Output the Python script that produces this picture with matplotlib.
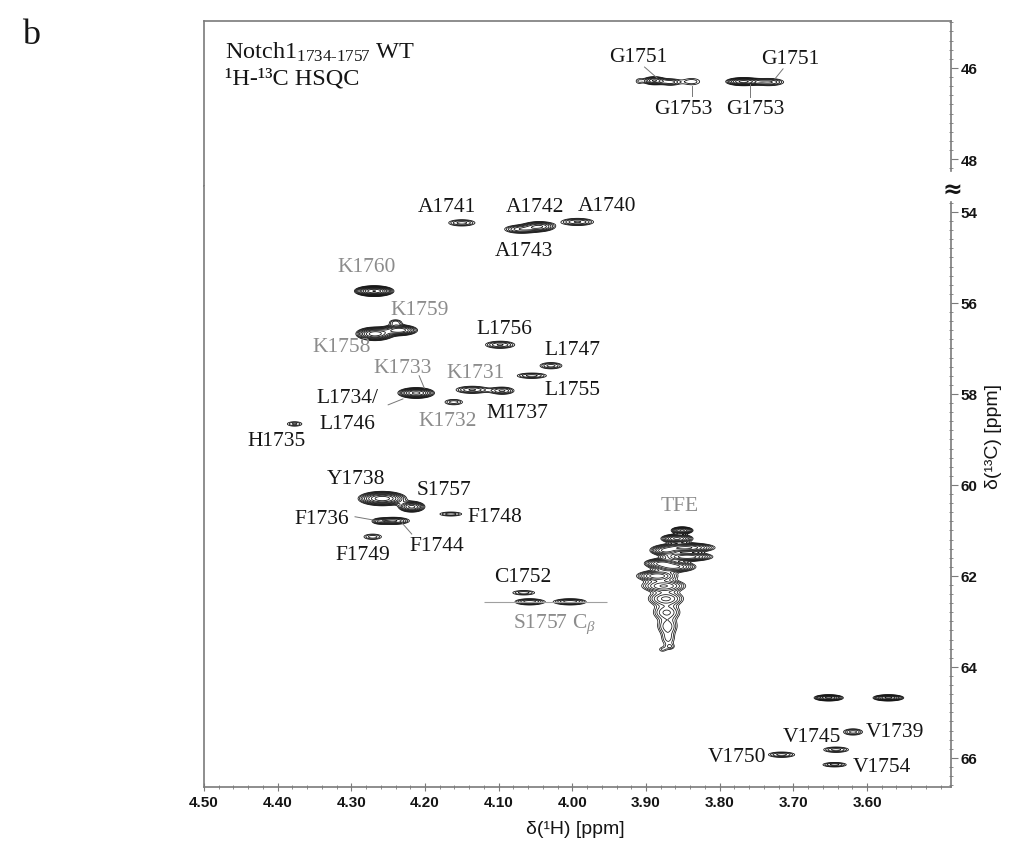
import numpy as np
import matplotlib

matplotlib.use("Agg")
import matplotlib.pyplot as plt
from matplotlib import font_manager

# glycine region (upper strip, 45-48.3 ppm)
gly_h = [3.910, 3.889, 3.867, 3.838, 3.768, 3.733]
gly_c = [46.29, 46.28, 46.31, 46.30, 46.30, 46.31]
gly_hw = [0.003, 0.015, 0.012, 0.011, 0.024, 0.020]
gly_hh = [0.04, 0.09, 0.07, 0.07, 0.09, 0.08]
gly_amp = [1.2, 5.0, 2.5, 1.6, 7.0, 3.0]

# alpha-proton region (lower strip)
main_h = [4.150, 4.070, 4.045, 3.993,
          4.269, 4.268, 4.235, 4.240,
          4.098, 4.029, 4.055,
          4.212, 4.136, 4.095, 4.161, 4.377,
          4.258, 4.218, 4.243, 4.262, 4.271, 4.165,
          4.066, 4.058, 4.003,
          3.652, 3.571, 3.619, 3.642, 3.716, 3.644]
main_c = [54.24, 54.38, 54.32, 54.22,
          55.74, 56.68, 56.60, 56.43,
          56.92, 57.38, 57.60,
          57.98, 57.91, 57.93, 58.18, 58.66,
          60.30, 60.48, 60.79, 60.80, 61.14, 60.64,
          62.37, 62.57, 62.57,
          64.68, 64.68, 65.43, 65.82, 65.93, 66.15]
main_hw = [0.018, 0.022, 0.022, 0.022,
           0.027, 0.026, 0.025, 0.008,
           0.020, 0.015, 0.020,
           0.025, 0.022, 0.016, 0.012, 0.010,
           0.033, 0.018, 0.022, 0.008, 0.012, 0.015,
           0.015, 0.020, 0.022,
           0.020, 0.021, 0.013, 0.017, 0.018, 0.016]
main_hh = [0.07, 0.09, 0.11, 0.08,
           0.12, 0.15, 0.12, 0.06,
           0.08, 0.07, 0.06,
           0.12, 0.08, 0.08, 0.06, 0.05,
           0.16, 0.12, 0.08, 0.05, 0.06, 0.045,
           0.05, 0.07, 0.07,
           0.07, 0.07, 0.07, 0.06, 0.06, 0.05]
main_amp = [2.5, 3.5, 5.0, 3.0,
            14.0, 10.0, 8.0, 2.0,
            3.0, 2.5, 2.5,
            9.0, 3.0, 3.0, 2.0, 1.8,
            10.0, 7.0, 4.0, 2.0, 2.0, 2.0,
            2.0, 3.5, 3.5,
            7.0, 7.0, 2.5, 2.5, 2.5, 2.5]

# TFE solvent signal, traced as overlapping rows
tfe_h = [3.851, 3.858, 3.846, 3.874, 3.844, 3.880, 3.862, 3.885, 3.876, 3.873, 3.872, 3.871, 3.870, 3.878, 3.867]
tfe_c = [61.00, 61.18, 61.38, 61.45, 61.58, 61.72, 61.80, 62.00, 62.22, 62.50, 62.80, 63.10, 63.38, 63.62, 63.56]
tfe_hw = [0.015, 0.022, 0.040, 0.020, 0.035, 0.022, 0.030, 0.028, 0.030, 0.024, 0.018, 0.013, 0.008, 0.003, 0.003]
tfe_hh = [0.08, 0.10, 0.11, 0.10, 0.10, 0.10, 0.12, 0.12, 0.14, 0.16, 0.16, 0.16, 0.14, 0.03, 0.03]
tfe_amp = [9.0, 9.0, 9.0, 6.0, 8.0, 6.0, 7.0, 6.0, 5.0, 4.0, 3.0, 2.5, 1.8, 1.2, 1.2]

x_ticks = [4.50, 4.40, 4.30, 4.20, 4.10, 4.00, 3.90, 3.80, 3.70, 3.60]
top_ticks = [46, 48]
bot_ticks = [54, 56, 58, 60, 62, 64, 66]

X_LIM = (4.50, 3.486)
TOP_LIM = (48.59, 44.97)
BOT_LIM = (66.64, 53.43)
BASE = 1.0
LEVELS = BASE * 1.3 ** np.arange(0, 13)

BLACK = "#151515"
GRAY = "#8c8c8c"
SPINE = "#7a7a7a"


def pick_font(names, fallback):
    available = {f.name for f in font_manager.fontManager.ttflist}
    for n in names:
        if n in available:
            return n
    return fallback


SERIF = pick_font(["Liberation Serif"], "DejaVu Serif")
NARROW = pick_font(["Liberation Sans Narrow", "Liberation Sans"], "DejaVu Sans")
SANS = pick_font(["Liberation Sans", "Arial"], "DejaVu Sans")

plt.rcParams["font.family"] = [SERIF, "DejaVu Serif"]
plt.rcParams["mathtext.fontset"] = "custom"
plt.rcParams["mathtext.rm"] = SERIF
plt.rcParams["mathtext.it"] = SERIF + ":italic"
plt.rcParams["mathtext.bf"] = SERIF + ":bold"


def spectrum(xg, yg, hs, cs, hws, hhs, amps):
    z = np.zeros((len(yg), len(xg)))
    for h, c, hw, hh, a in zip(hs, cs, hws, hhs, amps):
        k = np.sqrt(2 * np.log(a / (BASE * 0.98)))
        sx, sy = hw / k, hh / k
        gx = np.exp(-0.5 * ((xg - h) / sx) ** 2)
        gy = np.exp(-0.5 * ((yg - c) / sy) ** 2)
        z += a * np.outer(gy, gx)
    return z


fig = plt.figure(figsize=(10.14, 8.45), dpi=100)
fig.patch.set_facecolor("white")
left, width = 204 / 1014, 747 / 1014
ax_top = fig.add_axes([left, 1 - 187 / 845, width, 165 / 845])
ax_bot = fig.add_axes([left, 1 - 788 / 845, width, 601 / 845])

xg = np.linspace(X_LIM[1], X_LIM[0], 1500)
yg_top = np.linspace(TOP_LIM[1], TOP_LIM[0], 300)
yg_bot = np.linspace(BOT_LIM[1], BOT_LIM[0], 1300)

z_top = spectrum(xg, yg_top, gly_h, gly_c, gly_hw, gly_hh, gly_amp)
z_bot = spectrum(xg, yg_bot, main_h, main_c, main_hw, main_hh, main_amp)
z_tfe = spectrum(xg, yg_bot, tfe_h, tfe_c, tfe_hw, tfe_hh, tfe_amp)

ax_top.contour(xg, yg_top, z_top, levels=LEVELS, colors=BLACK, linewidths=0.6)
ax_bot.contour(xg, yg_bot, z_bot, levels=LEVELS, colors=BLACK, linewidths=0.6)
ax_bot.contour(xg, yg_bot, z_tfe, levels=LEVELS, colors=BLACK, linewidths=0.55)

# reference line through the S1757 C-beta peaks
cb_y = main_c[23]
ax_bot.hlines(cb_y, main_h[23] + 0.062, main_h[24] - 0.05, color="#a0a0a0", lw=0.8)

for ax, lim in ((ax_top, TOP_LIM), (ax_bot, BOT_LIM)):
    ax.set_xlim(*X_LIM)
    ax.set_ylim(*lim)
    ax.set_facecolor("white")
    for s in ax.spines.values():
        s.set_color(SPINE)
        s.set_linewidth(1.2)
    ax.yaxis.tick_right()
    ax.tick_params(axis="y", which="both", left=False, right=True, colors=SPINE, labelcolor=BLACK)
    ax.tick_params(axis="y", which="major", direction="out", length=5, pad=2)
    ax.tick_params(axis="y", which="minor", direction="inout", length=3)

ax_top.spines["bottom"].set_visible(False)
ax_bot.spines["top"].set_visible(False)
ax_top.spines["right"].set_bounds(44.97, 48.26)
ax_bot.spines["right"].set_bounds(53.78, 66.64)
ax_top.tick_params(axis="x", which="both", bottom=False, labelbottom=False)

tick_kw = dict(fontweight="bold", fontsize=11, family=NARROW)
ax_top.set_yticks(top_ticks, [str(t) for t in top_ticks], **tick_kw)
ax_top.set_yticks(np.arange(45.0, 48.21, 0.2), minor=True)
ax_bot.set_yticks(bot_ticks, [str(t) for t in bot_ticks], **tick_kw)
ax_bot.set_yticks(np.arange(53.8, 66.61, 0.2), minor=True)
ax_bot.set_xticks(x_ticks, [f"{t:.2f}" for t in x_ticks], **tick_kw)
ax_bot.set_xticks(np.arange(3.50, 4.501, 0.02), minor=True)
ax_bot.tick_params(axis="x", which="major", direction="inout", length=6, colors=SPINE, labelcolor=BLACK, pad=3)
ax_bot.tick_params(axis="x", which="minor", direction="inout", length=3, colors=SPINE)

# peak assignments: (axes, text, x, y, colour)
labels = [
    (ax_top, "G1751", 3.910, 45.74, BLACK),
    (ax_top, "G1753", 3.850, 46.90, BLACK),
    (ax_top, "G1753", 3.751, 46.90, BLACK),
    (ax_top, "G1751", 3.704, 45.80, BLACK),
    (ax_bot, "A1741", 4.170, 53.87, BLACK),
    (ax_bot, "A1742", 4.051, 53.89, BLACK),
    (ax_bot, "A1740", 3.953, 53.85, BLACK),
    (ax_bot, "A1743", 4.066, 54.84, BLACK),
    (ax_bot, "K1760", 4.279, 55.19, GRAY),
    (ax_bot, "K1759", 4.207, 56.15, GRAY),
    (ax_bot, "K1758", 4.313, 56.95, GRAY),
    (ax_bot, "L1756", 4.092, 56.57, BLACK),
    (ax_bot, "L1747", 4.000, 57.03, BLACK),
    (ax_bot, "L1755", 4.000, 57.91, BLACK),
    (ax_bot, "K1733", 4.230, 57.41, GRAY),
    (ax_bot, "K1731", 4.132, 57.52, GRAY),
    (ax_bot, "L1734/", 4.305, 58.07, BLACK),
    (ax_bot, "L1746", 4.305, 58.66, BLACK),
    (ax_bot, "M1737", 4.074, 58.40, BLACK),
    (ax_bot, "K1732", 4.169, 58.59, GRAY),
    (ax_bot, "H1735", 4.401, 59.03, BLACK),
    (ax_bot, "Y1738", 4.294, 59.85, BLACK),
    (ax_bot, "S1757", 4.174, 60.11, BLACK),
    (ax_bot, "F1736", 4.340, 60.73, BLACK),
    (ax_bot, "F1748", 4.105, 60.70, BLACK),
    (ax_bot, "F1744", 4.184, 61.34, BLACK),
    (ax_bot, "F1749", 4.284, 61.52, BLACK),
    (ax_bot, "C1752", 4.067, 62.02, BLACK),
    (ax_bot, r"S1757 C$_\beta$", 4.024, 63.03, GRAY),
    (ax_bot, "TFE", 3.854, 60.46, GRAY),
    (ax_bot, "V1745", 3.675, 65.54, BLACK),
    (ax_bot, "V1739", 3.562, 65.41, BLACK),
    (ax_bot, "V1750", 3.777, 65.98, BLACK),
    (ax_bot, "V1754", 3.580, 66.20, BLACK),
]
for ax, txt, x, y, col in labels:
    ax.text(x, y, txt, color=col, fontsize=15.5, ha="center", va="center")

# leader lines: (axes, x0, y0, x1, y1)
leaders = [
    (ax_top, 3.902, 45.98, 3.885, 46.22),
    (ax_top, 3.838, 46.40, 3.838, 46.62),
    (ax_top, 3.759, 46.35, 3.759, 46.64),
    (ax_top, 3.714, 46.02, 3.725, 46.24),
    (ax_bot, 4.208, 57.60, 4.201, 57.87),
    (ax_bot, 4.250, 58.24, 4.230, 58.11),
    (ax_bot, 4.295, 60.70, 4.257, 60.81),
    (ax_bot, 4.231, 60.84, 4.218, 61.08),
]
for ax, x0, y0, x1, y1 in leaders:
    ax.plot([x0, x1], [y0, y1], color="#777777", lw=0.7)

fig.text(225 / 1014, 1 - 52 / 845, r"Notch1$_{\mathrm{1734\text{-}1757}}$ WT",
         fontsize=17.5, ha="left", va="center", color=BLACK)
fig.text(225 / 1014, 1 - 79 / 845, "¹H-¹³C HSQC", fontsize=17.5, ha="left", va="center", color=BLACK)
fig.text(22 / 1014, 1 - 36 / 845, "b", fontsize=26, ha="left", va="center", color=BLACK)
fig.text(952 / 1014, 1 - 190 / 845, "≈", fontsize=17, fontweight="bold", ha="center", va="center",
         color=BLACK, family="DejaVu Sans")
fig.text(575 / 1014, 1 - 830 / 845, "δ(¹H) [ppm]", fontsize=14, ha="center", va="center",
         color=BLACK, family=SANS)
fig.text(993 / 1014, 1 - 437 / 845, "δ(¹³C) [ppm]", fontsize=14, ha="center", va="center",
         rotation=90, color=BLACK, family=SANS)

fig.savefig("out.png", dpi=100)
